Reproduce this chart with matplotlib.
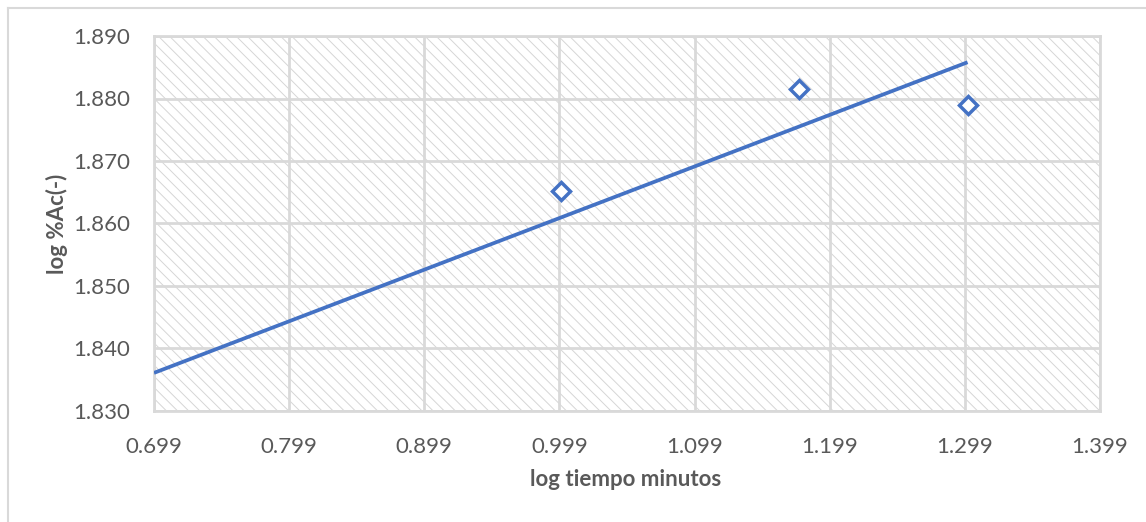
import matplotlib
matplotlib.use("Agg")
import matplotlib.pyplot as plt
from matplotlib.patches import Rectangle
from matplotlib.lines import Line2D

# Measured points (log of time in minutes vs log of %Ac)
log_tiempo = [1.000, 1.176, 1.301]
log_ac = [1.8652, 1.8815, 1.8790]

# Linear trendline endpoints
trend_x = [0.699, 1.301]
trend_y = [1.8361, 1.8858]

x_ticks = [0.699, 0.799, 0.899, 0.999, 1.099, 1.199, 1.299, 1.399]
y_ticks = [1.830, 1.840, 1.850, 1.860, 1.870, 1.880, 1.890]

BLUE = "#4472C4"
GRID = "#d9d9d9"
TEXT = "#595959"
FONT = ["Lato", "DejaVu Sans"]

plt.rcParams["font.family"] = FONT
plt.rcParams["hatch.linewidth"] = 0.7

W, H = 1146, 522
fig = plt.figure(figsize=(W / 100, H / 100), dpi=100)
ax = fig.add_axes([154 / W, 1 - 411 / H, (1100 - 154) / W, (411 - 36) / H])

# hatched plot background
ax.patch.set_facecolor("white")
ax.add_patch(Rectangle((0, 0), 1, 1, transform=ax.transAxes, facecolor="white",
                       edgecolor="#d6d6d6", hatch="\\\\\\", linewidth=0, zorder=0))

ax.set_xlim(x_ticks[0], x_ticks[-1])
ax.set_ylim(y_ticks[0], y_ticks[-1])
ax.set_xticks(x_ticks)
ax.set_yticks(y_ticks)
ax.set_xticklabels([f"{v:.3f}" for v in x_ticks])
ax.set_yticklabels([f"{v:.3f}" for v in y_ticks])
ax.tick_params(length=0, labelsize=16, labelcolor=TEXT)
ax.tick_params(axis="y", pad=17)
ax.tick_params(axis="x", pad=19)

ax.grid(True, color=GRID, linewidth=2.0, zorder=1)
ax.set_axisbelow(True)
for s in ax.spines.values():
    s.set_color(GRID)
    s.set_linewidth(2.0)

ax.plot(trend_x, trend_y, color=BLUE, linewidth=2.7, solid_capstyle="butt", zorder=3)
ax.plot(log_tiempo, log_ac, linestyle="none", marker="D", markersize=9.5,
        markerfacecolor="white", markeredgecolor=BLUE, markeredgewidth=2.5, zorder=4)

# axis titles
fig.text(626 / W, 1 - 480 / H, "log tiempo minutos", fontsize=16, fontweight="bold",
         color=TEXT, ha="center", va="center")
fig.text(57 / W, 1 - 224 / H, "log %Ac(-)", fontsize=16, fontweight="bold",
         color=TEXT, ha="center", va="center", rotation=90)

# outer chart frame (top and left edges)
fig.add_artist(Line2D([7.5 / W, 1], [1 - 7.5 / H, 1 - 7.5 / H], color=GRID, linewidth=1.5,
                      transform=fig.transFigure))
fig.add_artist(Line2D([7.5 / W, 7.5 / W], [0, 1 - 7.5 / H], color=GRID, linewidth=1.5,
                      transform=fig.transFigure))

fig.savefig("out.png", dpi=100)
